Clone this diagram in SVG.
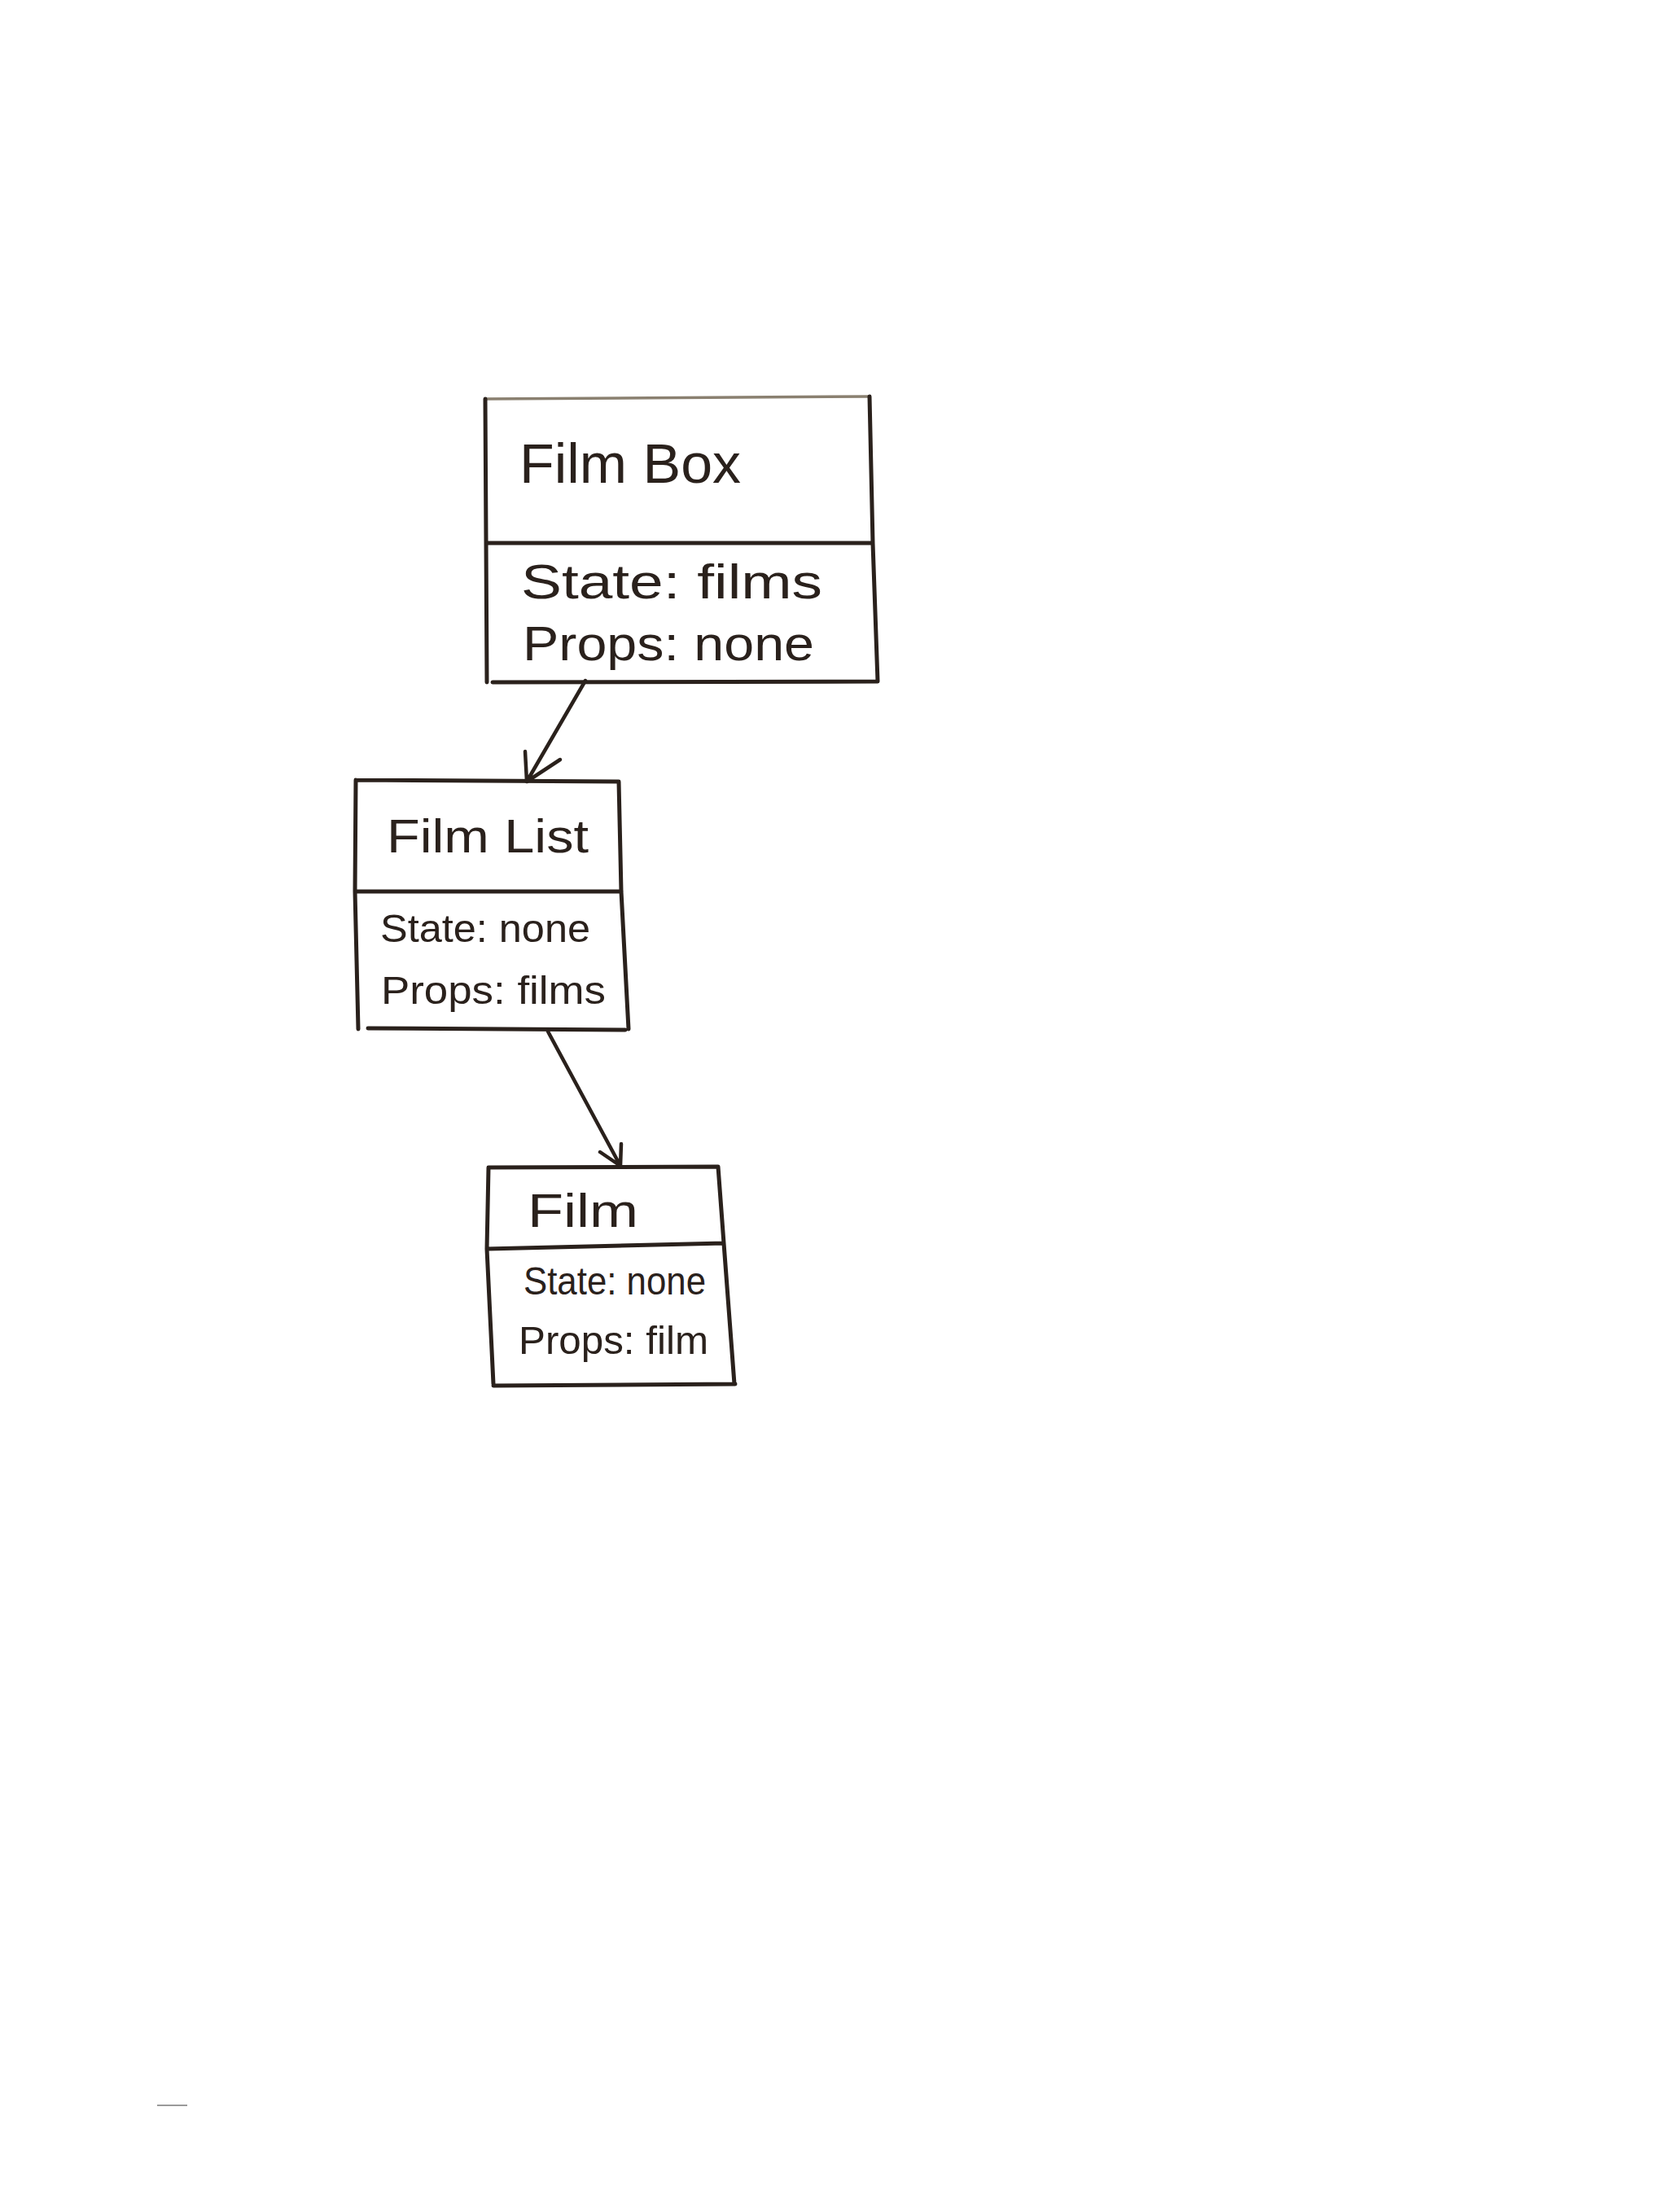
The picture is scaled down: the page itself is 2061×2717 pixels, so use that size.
<svg xmlns="http://www.w3.org/2000/svg" width="2061" height="2717" viewBox="0 0 2061 2717">
<style>
.bx{fill:none;stroke:#2a211c;stroke-width:5;stroke-linecap:round;stroke-linejoin:round}
.faint{fill:none;stroke:#8a8070;stroke-width:3.5}
.t{font-family:"Liberation Sans",Arial,sans-serif;fill:#2a211c}
.h1{font-size:68px}
.h2{font-size:58px}
.b1{font-size:60px}
.b2{font-size:48px}
.con{fill:none;stroke:#2a211c;stroke-width:4.5;stroke-linecap:round;stroke-linejoin:round}
</style>
<rect width="2061" height="2717" fill="#ffffff"/>
<g id="film-box">
<path class="faint" d="M596 490 L1068 487"/>
<path class="bx" d="M596 490 L598 838 M1068 487 L1072 667 L1078 837 M598 667 L1072 667 M605 838 L1078 837"/>
<text class="t h1" x="638" y="593" textLength="272" lengthAdjust="spacingAndGlyphs">Film Box</text>
<text class="t b1" x="640" y="735" textLength="370" lengthAdjust="spacingAndGlyphs">State: films</text>
<text class="t b1" x="642" y="811" textLength="358" lengthAdjust="spacingAndGlyphs">Props: none</text>
</g>
<g id="film-list">
<path class="bx" d="M437 958 L760 960 L763 1095 L772 1264 M437 958 L436 1095 L440 1264 M437 1095 L763 1095 M452 1263 L768 1265"/>
<text class="t h2" x="475" y="1047" textLength="248" lengthAdjust="spacingAndGlyphs">Film List</text>
<text class="t b2" x="467" y="1157" textLength="258" lengthAdjust="spacingAndGlyphs">State: none</text>
<text class="t b2" x="468" y="1233" textLength="276" lengthAdjust="spacingAndGlyphs">Props: films</text>
</g>
<g id="film">
<path class="bx" d="M600 1434 L882 1433 L889 1527 L902 1700 M600 1434 L598 1534 L606 1700 M598 1534 L889 1527 M606 1702 L903 1700"/>
<text class="t h2" x="648" y="1507" textLength="136" lengthAdjust="spacingAndGlyphs">Film</text>
<text class="t b2" x="643" y="1590" textLength="224" lengthAdjust="spacingAndGlyphs">State: none</text>
<text class="t b2" x="637" y="1663" textLength="233" lengthAdjust="spacingAndGlyphs">Props: film</text>
</g>
<g id="connectors">
<path class="con" d="M719 836 L647 960 M645 923 L647 960 L688 933"/>
<path class="con" d="M673 1267 L762 1432 M737 1415 L762 1432 L763 1405"/>
</g>
<path d="M193 2586 L230 2586" stroke="#9a9a9a" stroke-width="2" fill="none"/>
</svg>
